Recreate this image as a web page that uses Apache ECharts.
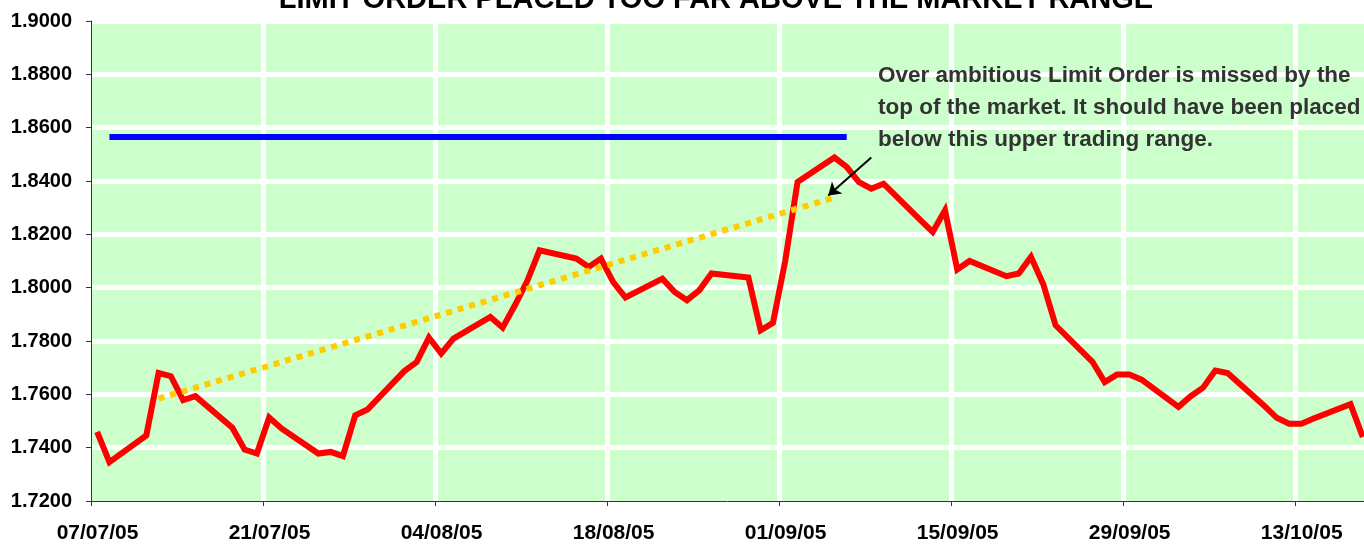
<!DOCTYPE html>
<html><head><meta charset="utf-8">
<script src="https://cdn.jsdelivr.net/npm/echarts@6/dist/echarts.min.js"></script>
<style>html,body{margin:0;padding:0;background:#fff}#c{width:1364px;height:544px}</style>
</head><body><div id="c"></div>
<script>
// ---- data ----
const priceDates = [
 '07/07/05','08/07/05','11/07/05','12/07/05','13/07/05','14/07/05','15/07/05',
 '18/07/05','19/07/05','20/07/05','21/07/05','22/07/05',
 '25/07/05','26/07/05','27/07/05','28/07/05','29/07/05',
 '01/08/05','02/08/05','03/08/05','04/08/05','05/08/05',
 '08/08/05','09/08/05','10/08/05','11/08/05','12/08/05',
 '15/08/05','16/08/05','17/08/05','18/08/05','19/08/05',
 '22/08/05','23/08/05','24/08/05','25/08/05','26/08/05',
 '29/08/05','30/08/05','31/08/05','01/09/05','02/09/05',
 '05/09/05','06/09/05','07/09/05','08/09/05','09/09/05',
 '12/09/05','13/09/05','14/09/05','15/09/05','16/09/05',
 '19/09/05','20/09/05','21/09/05','22/09/05','23/09/05',
 '26/09/05','27/09/05','28/09/05','29/09/05','30/09/05',
 '03/10/05','04/10/05','05/10/05','06/10/05','07/10/05',
 '10/10/05','11/10/05','12/10/05','13/10/05','14/10/05',
 '17/10/05','18/10/05'
];
const priceValues = [
 1.7459,1.7346,1.7446,1.7680,1.7668,1.7578,1.7593,
 1.7475,1.7393,1.7378,1.7513,1.7472,
 1.7378,1.7384,1.7368,1.7521,1.7543,
 1.7687,1.7721,1.7813,1.7753,1.7809,
 1.7890,1.7850,1.7934,1.8025,1.8140,
 1.8109,1.8078,1.8109,1.8021,1.7963,
 1.8034,1.7984,1.7953,1.7990,1.8053,
 1.8038,1.7840,1.7868,1.8101,1.8396,
 1.8488,1.8453,1.8396,1.8371,1.8390,
 1.8253,1.8209,1.8290,1.8068,1.8100,
 1.8043,1.8053,1.8115,1.8013,1.7859,
 1.7722,1.7646,1.7674,1.7674,1.7655,
 1.7553,1.7593,1.7625,1.7689,1.7680,
 1.7556,1.7512,1.7490,1.7490,1.7509,
 1.7563,1.7440
];
const limitDates = ['08/07/05','06/09/05'];
const limitValues = [1.8565, 1.8565];
const trendDates = ['12/07/05','05/09/05'];
const trendValues = [1.7584, 1.8338];
const axisStartDate = '07/07/05';
const axisEndDay = 103.6;        // days after start visible at right edge
const xTickDays = 14;
const yMin = 1.72, yMax = 1.90, yStep = 0.02;
const titleText = 'LIMIT ORDER PLACED TOO FAR ABOVE THE MARKET RANGE';
const noteText = 'Over ambitious Limit Order is missed by the\ntop of the market. It should have been placed\nbelow this upper trading range.';
const arrowFrom = [63.5, 1.8488];
const arrowTo = [60.0, 1.8346];

// ---- helpers ----
function parseD(s){const p=s.split('/');return Date.UTC(2000+ +p[2], +p[1]-1, +p[0]);}
const t0 = parseD(axisStartDate);
function dayOf(s){return (parseD(s)-t0)/86400000;}
function pos(s){return dayOf(s)+0.5;}   // points sit mid-day on the date axis
function fmtDay(d){
  const dt=new Date(t0+Math.round(d)*86400000);
  const p=n=>String(n).padStart(2,'0');
  return p(dt.getUTCDate())+'/'+p(dt.getUTCMonth()+1)+'/'+p(dt.getUTCFullYear()%100);
}
const pair=(ds,vs)=>ds.map((d,i)=>[pos(d),vs[i]]);

const chart = echarts.init(document.getElementById('c'), null, {renderer:'canvas'});
chart.setOption({
  animation:false,
  backgroundColor:'#ffffff',
  title:{text:titleText,left:711,textAlign:'center',top:-20,
    textStyle:{fontSize:29,fontWeight:'bold',color:'#000',fontFamily:'Liberation Sans'}},
  grid:{left:91,right:0,top:21,bottom:43,show:true,backgroundColor:'#CCFFCC',borderWidth:0,containLabel:false},
  xAxis:{type:'value',min:0,max:axisEndDay,interval:xTickDays,
    axisLine:{show:true,onZero:false,lineStyle:{color:'#333',width:1}},
    axisTick:{show:true,length:5,lineStyle:{color:'#333',width:1}},
    axisLabel:{formatter:v=>fmtDay(v),showMaxLabel:false,margin:22,padding:[0,0,0,13],
      fontSize:21,fontWeight:'bold',color:'#000',fontFamily:'Liberation Sans'},
    splitLine:{show:true,showMinLine:false,showMaxLine:false,lineStyle:{color:'#fff',width:5}}},
  yAxis:{type:'value',min:yMin,max:yMax,interval:yStep,
    axisLine:{show:true,lineStyle:{color:'#333',width:1}},
    axisTick:{show:true,length:5,lineStyle:{color:'#333',width:1}},
    axisLabel:{formatter:v=>v.toFixed(4),margin:19,
      fontSize:20,fontWeight:'bold',color:'#000',fontFamily:'Liberation Sans'},
    splitLine:{show:true,showMinLine:false,lineStyle:{color:'#fff',width:5}}},
  graphic:[{type:'text',left:878,top:60,z:100,
    style:{text:noteText,fill:'#333333',font:'bold 22.5px "Liberation Sans"',lineHeight:32}}],
  series:[
    {type:'line',name:'price',data:pair(priceDates,priceValues),symbol:'none',
      lineStyle:{color:'#FF0000',width:6,join:'miter'},z:2},
    {type:'line',name:'trend',data:pair(trendDates,trendValues),symbol:'none',
      lineStyle:{color:'#FFCC00',width:6,type:[6,6],cap:'butt'},z:3,
      markLine:{silent:true,symbol:['none','arrow'],symbolSize:12,label:{show:false},
        lineStyle:{color:'#000',width:2,type:'solid'},
        data:[[{coord:arrowFrom},{coord:arrowTo}]]}},
    {type:'line',name:'limit',data:pair(limitDates,limitValues),symbol:'none',
      lineStyle:{color:'#0000FF',width:6,cap:'butt'},z:4}
  ]
});
</script></body></html>
